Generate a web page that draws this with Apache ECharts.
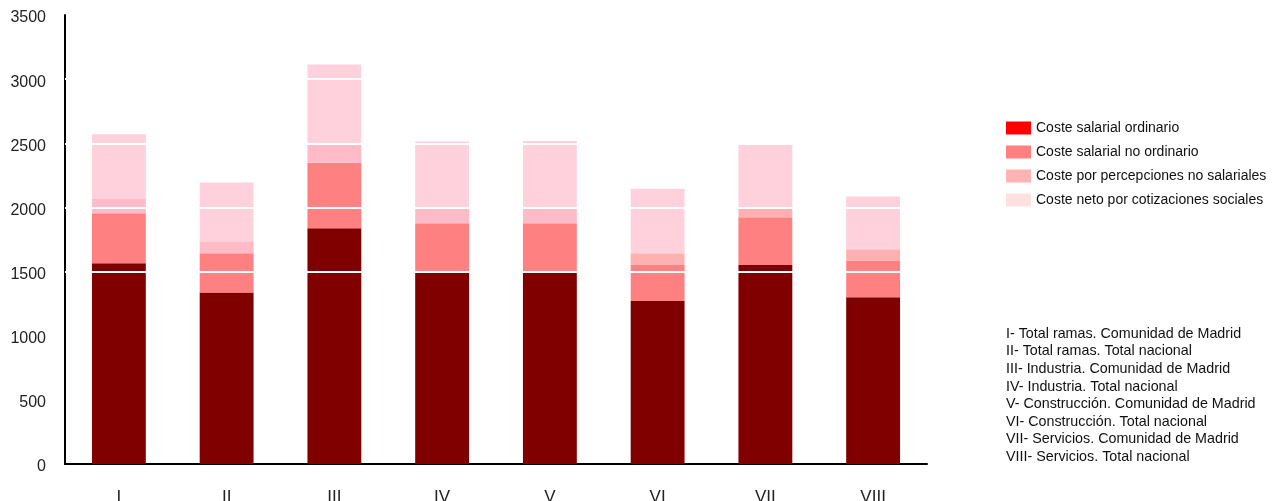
<!DOCTYPE html>
<html>
<head>
<meta charset="utf-8">
<script src="https://cdn.jsdelivr.net/npm/echarts@6/dist/echarts.min.js"></script>
<style>
html,body{margin:0;padding:0;background:#fff;}
#chart{width:1275px;height:501px;}
</style>
</head>
<body>
<div id="chart"></div>
<script>
const categories = ['I','II','III','IV','V','VI','VII','VIII'];
const seriesNames = ['Coste salarial ordinario','Coste salarial no ordinario','Coste por percepciones no salariales','Coste neto por cotizaciones sociales'];
const salarialOrdinario   = [1565, 1336, 1838, 1495, 1495, 1270, 1552, 1299];
const salarialNoOrdinario = [390, 307, 511, 382, 382, 282, 372, 287];
const percepcionesNoSal   = [110, 94, 151, 118, 123, 91, 66, 88];
const cotizacionesSoc     = [505, 458, 614, 518, 518, 503, 497, 411];
const yTicks = [0, 500, 1000, 1500, 2000, 2500, 3000, 3500];
const whiteLines = [1500, 2000, 2500, 3000];
const notes = [
  'I- Total ramas. Comunidad de Madrid',
  'II- Total ramas. Total nacional',
  'III- Industria. Comunidad de Madrid',
  'IV- Industria. Total nacional',
  'V- Construcción. Comunidad de Madrid',
  'VI- Construcción. Total nacional',
  'VII- Servicios. Comunidad de Madrid',
  'VIII- Servicios. Total nacional'
];

const barColors = ['#800000', '#FF8080', '#FFBBC8', '#FFD1DC'];
const legendColors = ['#FF0000', '#FF8080', '#FFB3B3', '#FFE0E0'];
const FONT = '"Liberation Sans", Arial, sans-serif';

const chart = echarts.init(document.getElementById('chart'), null, {renderer: 'canvas'});
const valueSets = [salarialOrdinario, salarialNoOrdinario, percepcionesNoSal, cotizacionesSoc];

const series = valueSets.map((vals, i) => {
  const s = {
    name: seriesNames[i],
    type: 'bar',
    stack: 'total',
    barWidth: '50%',
    data: vals,
    itemStyle: {
      color: i === 2 ? function (p) { return p.dataIndex >= 5 ? '#FFB0B0' : '#FFBBC8'; } : barColors[i]
    },
    emphasis: {disabled: true}
  };
  if (i === 3) {
    s.markLine = {
      silent: true,
      symbol: 'none',
      label: {show: false},
      lineStyle: {color: '#ffffff', width: 2, type: 'solid'},
      data: whiteLines.map(v => ({yAxis: v}))
    };
  }
  return s;
});

chart.setOption({
  animation: false,
  backgroundColor: '#ffffff',
  grid: {left: 65, right: 348, top: 15, bottom: 37, containLabel: false, outerBoundsMode: 'none'},
  legend: {
    orient: 'vertical',
    left: 1006,
    top: 121,
    padding: 0,
    itemWidth: 25,
    itemHeight: 13,
    itemGap: 10,
    icon: 'rect',
    textStyle: {fontFamily: FONT, fontSize: 14, color: '#111'},
    selectedMode: false,
    data: seriesNames.map((n, i) => ({name: n, itemStyle: {color: legendColors[i]}}))
  },
  xAxis: {
    type: 'category',
    data: categories,
    axisLine: {lineStyle: {color: '#000', width: 2}},
    axisTick: {show: false},
    axisLabel: {fontFamily: FONT, fontSize: 17, color: '#222', margin: 25}
  },
  yAxis: {
    type: 'value',
    min: 0,
    max: 3500,
    interval: 500,
    axisLine: {show: true, lineStyle: {color: '#000', width: 2}},
    axisTick: {show: false},
    splitLine: {show: false},
    axisLabel: {
      fontFamily: FONT, fontSize: 16, color: '#222', margin: 19,
      verticalAlign: 'top', lineHeight: 6,
      formatter: function (v) { return yTicks.indexOf(v) >= 0 ? String(v) : ''; }
    }
  },
  graphic: [{
    type: 'text',
    left: 1006,
    top: 325,
    style: {
      text: notes.join('\n'),
      font: '14.3px ' + FONT,
      fill: '#111',
      lineHeight: 17.6
    }
  }],
  series: series
});
</script>
</body>
</html>
